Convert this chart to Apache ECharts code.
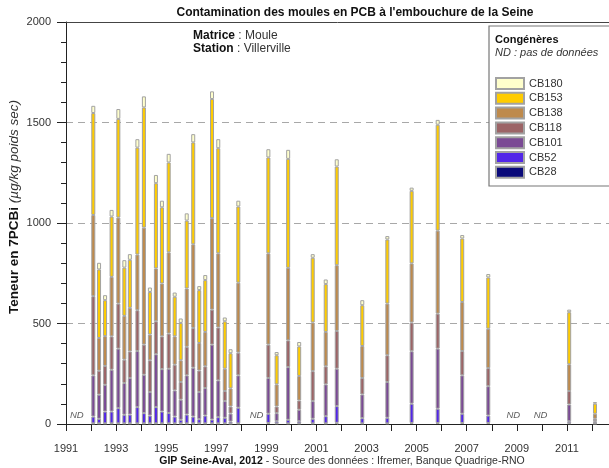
<!DOCTYPE html>
<html>
<head>
<meta charset="utf-8">
<script src="https://cdn.jsdelivr.net/npm/echarts@6/dist/echarts.min.js"></script>
<style>
  html, body { margin: 0; padding: 0; background: #fff; }
  #chart { width: 609px; height: 468px; }
</style>
</head>
<body>
<div id="chart"></div>
<script>
// Sampling dates (decimal years) at the Villerville station
const sampleDates = [
  1992.09, 1992.32, 1992.56, 1992.82, 1993.09, 1993.33, 1993.55, 1993.85,
  1994.11, 1994.35, 1994.59, 1994.83, 1995.10, 1995.34, 1995.58, 1995.82,
  1996.08, 1996.32, 1996.56, 1996.83, 1997.08, 1997.34, 1997.57, 1997.88,
  1999.08, 1999.41, 1999.87, 2000.31, 2000.85, 2001.37, 2001.81, 2002.83,
  2003.83, 2004.80, 2005.84, 2006.82, 2007.86, 2011.09, 2012.12
];

// PCB congener concentrations (µg/kg dry weight), one value per sample
const cb28  = [3, 3, 3, 3, 3, 3, 3, 3, 3, 3, 3, 3, 3, 3, 3, 3, 3, 3, 3, 3, 3, 3, 2, 3,
               5, 3, 3, 3, 3, 3, 6, 3, 3, 5, 5, 5, 5, 4, 2];
const cb52  = [34, 23, 59, 59, 76, 43, 44, 81, 51, 39, 81, 59, 52, 34, 18, 44, 34, 21, 39, 19, 31, 28, 10, 78,
               46, 11, 18, 11, 23, 36, 83, 26, 28, 96, 71, 46, 37, 10, 2];
const cb101 = [205, 120, 133, 208, 296, 158, 182, 279, 191, 117, 263, 211, 220, 130, 100, 195, 243, 135, 137, 373, 183, 83, 40, 161,
               178, 40, 262, 57, 88, 158, 186, 118, 178, 261, 299, 191, 146, 83, 10];
const cb118 = [394, 119, 94, 166, 224, 116, 132, 203, 150, 158, 164, 163, 175, 128, 88, 142, 198, 107, 108, 174, 263, 50, 35, 113,
               166, 33, 133, 46, 149, 90, 188, 82, 133, 143, 174, 121, 90, 67, 12];
const cb138 = [404, 163, 148, 296, 428, 218, 217, 277, 582, 128, 263, 263, 404, 141, 108, 290, 416, 137, 171, 455, 369, 111, 90, 348,
               454, 110, 361, 122, 242, 171, 327, 159, 257, 294, 413, 244, 196, 133, 25];
const cb153 = [507, 341, 179, 300, 491, 240, 239, 532, 598, 212, 424, 379, 447, 197, 186, 338, 507, 263, 258, 593, 523, 236, 175, 379,
               477, 145, 542, 147, 322, 238, 491, 203, 319, 361, 527, 316, 255, 259, 50];
const cb180 = [36, 33, 25, 33, 49, 37, 28, 42, 55, 22, 41, 33, 43, 21, 22, 36, 41, 20, 25, 38, 45, 19, 20, 29,
               41, 16, 45, 22, 18, 23, 36, 25, 17, 16, 24, 17, 17, 13, 8];

// Periods without data (decimal years)
const ndYears = [1991.43, 1998.61, 2008.86, 2009.95];

// Axis ticks
const tickYears = [1991, 1992, 1993, 1994, 1995, 1996, 1997, 1998, 1999, 2000, 2001,
                   2002, 2003, 2004, 2005, 2006, 2007, 2008, 2009, 2010, 2011, 2012];
const labelYears = [1991, 1993, 1995, 1997, 1999, 2001, 2003, 2005, 2007, 2009, 2011];

const congeners = [
  { name: 'CB28',  values: cb28,  color: '#0a0a7a' },
  { name: 'CB52',  values: cb52,  color: '#5226e8' },
  { name: 'CB101', values: cb101, color: '#7a4a94' },
  { name: 'CB118', values: cb118, color: '#9c6466' },
  { name: 'CB138', values: cb138, color: '#be8a4c' },
  { name: 'CB153', values: cb153, color: '#ffcc00' },
  { name: 'CB180', values: cb180, color: '#ffffcc' }
];

const FONT = '"Liberation Sans", Arial, sans-serif';
const X_MIN = 1991, X_MAX = 2012.68;

// Each point is [concentration, date]; the value comes first so that the
// stack is computed on the concentration, with the date mapped to x.
const barSeries = congeners.map(c => ({
  name: c.name,
  type: 'bar',
  stack: 'pcb',
  xAxisIndex: 0,
  barWidth: 4,
  encode: { x: 1, y: 0 },
  data: sampleDates.map((d, i) => [c.values[i], d]),
  itemStyle: { color: c.color, borderColor: '#a2a2a2', borderWidth: 1 },
  emphasis: { disabled: true }
}));

const ndSeries = {
  name: 'ND',
  type: 'scatter',
  xAxisIndex: 0,
  symbolSize: 1,
  itemStyle: { color: 'rgba(0,0,0,0)' },
  data: ndYears.map(y => [y, 45]),
  label: {
    show: true, position: 'inside', formatter: 'ND',
    fontStyle: 'italic', fontSize: 9.5, color: '#333', fontFamily: FONT
  },
  silent: true
};

const chart = echarts.init(document.getElementById('chart'), null, { renderer: 'canvas' });

chart.setOption({
  animation: false,
  backgroundColor: '#fff',
  grid: { left: 66, right: 0, top: 22, bottom: 44 },
  xAxis: [
    {
      type: 'value', min: X_MIN, max: X_MAX, interval: 1,
      axisLine: { show: true, lineStyle: { color: '#222', width: 1 } },
      axisTick: { show: true, customValues: tickYears, length: 7, lineStyle: { color: '#222' } },
      axisLabel: { customValues: labelYears, margin: 19, fontSize: 11, color: '#333', fontFamily: FONT,
                   formatter: v => String(v) },
      splitLine: { show: false }
    },
    {
      type: 'value', position: 'top', min: X_MIN, max: X_MAX,
      axisLine: { show: true, lineStyle: { color: '#444', width: 1 } },
      axisTick: { show: false }, axisLabel: { show: false }, splitLine: { show: false }
    }
  ],
  yAxis: {
    type: 'value', min: 0, max: 2000, interval: 500,
    axisLine: { show: true, lineStyle: { color: '#222', width: 1 } },
    axisTick: { show: true, length: 9, lineStyle: { color: '#222' } },
    minorTick: { show: true, splitNumber: 5, length: 5, lineStyle: { color: '#222' } },
    axisLabel: { margin: 15, fontSize: 11, color: '#333', fontFamily: FONT, formatter: v => String(v) },
    splitLine: { show: true, lineStyle: { color: '#a8a8a8', width: 1.2, type: [7, 5] } }
  },
  legend: {
    orient: 'vertical', left: 495, top: 77, padding: 0,
    data: congeners.map(c => c.name).reverse(),
    icon: 'rect', itemWidth: 28, itemHeight: 11, itemGap: 1.8,
    textStyle: { fontSize: 11, color: '#333', fontFamily: FONT },
    selectedMode: false, z: 5
  },
  graphic: [
    {
      type: 'text', x: 355, y: 13, z: 10,
      style: {
        text: "Contamination des moules en PCB à l'embouchure de la Seine",
        fontFamily: FONT, fontWeight: 'bold', fontSize: 12, fill: '#111',
        align: 'center', verticalAlign: 'middle'
      }
    },
    {
      type: 'text', x: 193, y: 36, z: 10,
      style: {
        text: '{b|Matrice} : Moule',
        fontFamily: FONT, fontSize: 12, fill: '#333', verticalAlign: 'middle',
        rich: { b: { fontFamily: FONT, fontSize: 12, fontWeight: 'bold', fill: '#111' } }
      }
    },
    {
      type: 'text', x: 193, y: 49, z: 10,
      style: {
        text: '{b|Station} : Villerville',
        fontFamily: FONT, fontSize: 12, fill: '#333', verticalAlign: 'middle',
        rich: { b: { fontFamily: FONT, fontSize: 12, fontWeight: 'bold', fill: '#111' } }
      }
    },
    {
      type: 'text', x: 14, y: 207, rotation: Math.PI / 2, z: 10,
      style: {
        text: '{b|Teneur en 7PCBi} {i|(µg/kg poids sec)}',
        fontFamily: FONT, fontSize: 13.5, fill: '#222', align: 'center', verticalAlign: 'middle',
        rich: {
          b: { fontFamily: FONT, fontSize: 13.5, fontWeight: 'bold', fill: '#111' },
          i: { fontFamily: FONT, fontSize: 13.5, fontStyle: 'italic', fill: '#333' }
        }
      }
    },
    {
      type: 'text', x: 342, y: 461, z: 10,
      style: {
        text: '{b|GIP Seine-Aval, 2012} - Source des données : Ifremer, Banque Quadrige-RNO',
        fontFamily: FONT, fontSize: 10.5, fill: '#333', align: 'center', verticalAlign: 'middle',
        rich: { b: { fontFamily: FONT, fontSize: 10.5, fontWeight: 'bold', fill: '#111' } }
      }
    },
    {
      type: 'rect', z: 3,
      shape: { x: 489, y: 26, width: 140, height: 160 },
      style: { fill: '#fff', stroke: '#777', lineWidth: 1.2 }
    },
    {
      type: 'text', x: 495, y: 40, z: 10,
      style: { text: 'Congénères', fontFamily: FONT, fontSize: 11, fontWeight: 'bold', fill: '#111', verticalAlign: 'middle' }
    },
    {
      type: 'text', x: 495, y: 53, z: 10,
      style: { text: 'ND : pas de données', fontFamily: FONT, fontSize: 11, fontStyle: 'italic', fill: '#333', verticalAlign: 'middle' }
    }
  ],
  series: barSeries.concat([ndSeries])
});
</script>
</body>
</html>
